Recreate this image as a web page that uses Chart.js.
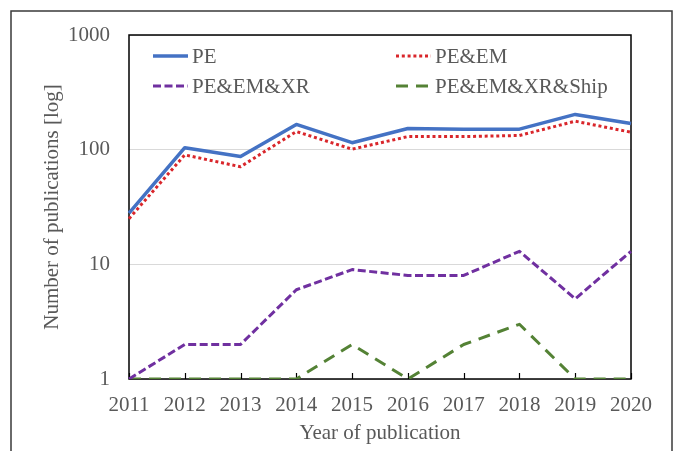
<!DOCTYPE html>
<html>
<head>
<meta charset="utf-8">
<script src="https://cdn.jsdelivr.net/npm/chart.js@4/dist/chart.umd.min.js"></script>
<style>
  html, body { margin: 0; padding: 0; background: #fff; }
  #wrap { width: 678px; height: 451px; position: relative; }
</style>
</head>
<body>
<div id="wrap"><canvas id="pubChart" width="678" height="451"></canvas></div>
<script>
// data
const years = ['2011', '2012', '2013', '2014', '2015', '2016', '2017', '2018', '2019', '2020'];
const pe        = [28, 104, 87, 166, 115, 153, 151, 151, 203, 169];
const peEm      = [25, 90, 71, 144, 101, 130, 130, 133, 177, 142];
const peEmXr    = [1, 2, 2, 6, 9, 8, 8, 13, 5, 13];
const peEmXrShip = [1, 1, 1, 1, 2, 1, 2, 3, 1, 1];
const yTicks = [1, 10, 100, 1000];

const seriesNames = ['PE', 'PE&EM', 'PE&EM&XR', 'PE&EM&XR&Ship'];

const textGray = '#595959';
const serif = "'Liberation Serif', 'Times New Roman', serif";
const fontSize = 21;

// plot frame + inward tick marks on the x axis (under the lines)
const framePlugin = {
    id: 'frame',
    beforeDatasetsDraw(chart) {
        const { ctx, chartArea: a, scales } = chart;
        ctx.save();
        ctx.strokeStyle = '#000';
        ctx.lineWidth = 1.5;
        ctx.strokeRect(a.left, a.top, a.right - a.left, a.bottom - a.top);
        ctx.lineWidth = 1.2;
        scales.x.ticks.forEach((t, i) => {
            const x = Math.round(scales.x.getPixelForTick(i)) + 0.5;
            ctx.beginPath();
            ctx.moveTo(x, a.bottom);
            ctx.lineTo(x, a.bottom - 6);
            ctx.stroke();
        });
        ctx.restore();
    }
};

// two-column legend inside the plot, plus the outer figure border
const legendPlugin = {
    id: 'insideLegend',
    afterDraw(chart) {
        const { ctx } = chart;
        const colX = [153, 396];
        const rowY = [56, 86];
        const lineLen = 35;
        ctx.save();
        chart.data.datasets.forEach((ds, i) => {
            const x = colX[i % 2];
            const y = rowY[Math.floor(i / 2)];
            ctx.strokeStyle = ds.borderColor;
            ctx.lineWidth = ds.borderWidth;
            ctx.setLineDash(ds.borderDash || []);
            ctx.beginPath();
            ctx.moveTo(x, y);
            ctx.lineTo(x + lineLen, y);
            ctx.stroke();
            ctx.setLineDash([]);
            ctx.fillStyle = textGray;
            ctx.font = fontSize + 'px ' + serif;
            ctx.textBaseline = 'middle';
            ctx.textAlign = 'left';
            ctx.fillText(ds.label, x + lineLen + 4, y + 1);
        });
        // outer border of the figure
        ctx.strokeStyle = '#3a3a3a';
        ctx.lineWidth = 1.5;
        ctx.strokeRect(11, 11, 661, 460);
        ctx.restore();
    }
};

const ctx = document.getElementById('pubChart').getContext('2d');
new Chart(ctx, {
    type: 'line',
    data: {
        labels: years,
        datasets: [
            { label: seriesNames[0], data: pe, borderColor: '#4472C4', borderWidth: 3.5 },
            { label: seriesNames[1], data: peEm, borderColor: '#D9262B', borderWidth: 3, borderDash: [3, 2.8] },
            { label: seriesNames[2], data: peEmXr, borderColor: '#7030A0', borderWidth: 3, borderDash: [8, 3.5] },
            { label: seriesNames[3], data: peEmXrShip, borderColor: '#548235', borderWidth: 3, borderDash: [12, 8] }
        ]
    },
    options: {
        responsive: false,
        animation: false,
        devicePixelRatio: 1,
        layout: { padding: { left: 0, top: 35, right: 47, bottom: 0 } },
        elements: {
            point: { radius: 0, hoverRadius: 0 },
            line: { tension: 0, fill: false, borderCapStyle: 'butt', borderJoinStyle: 'round' }
        },
        plugins: {
            legend: { display: false },
            tooltip: { enabled: false }
        },
        scales: {
            x: {
                offset: false,
                grid: { display: false, drawTicks: false },
                border: { display: false },
                ticks: { color: textGray, font: { family: serif, size: fontSize }, padding: 14, maxRotation: 0, autoSkip: false },
                title: { display: true, text: 'Year of publication', color: textGray, font: { family: serif, size: fontSize }, padding: { top: 0, bottom: 5 } },
                afterFit(scale) { scale.height = 72; }
            },
            y: {
                type: 'logarithmic',
                min: 1,
                max: 1000,
                grid: { color: '#d9d9d9', lineWidth: 1, drawTicks: false },
                border: { display: false },
                afterBuildTicks(scale) { scale.ticks = yTicks.map(v => ({ value: v })); },
                ticks: {
                    color: textGray,
                    font: { family: serif, size: fontSize },
                    padding: 19,
                    callback: v => String(v)
                },
                title: { display: true, text: 'Number of publications [log]', color: textGray, font: { family: serif, size: fontSize }, padding: { top: 40, bottom: 0 } },
                afterFit(scale) { scale.width = 129; }
            }
        }
    },
    plugins: [framePlugin, legendPlugin]
});
</script>
</body>
</html>
